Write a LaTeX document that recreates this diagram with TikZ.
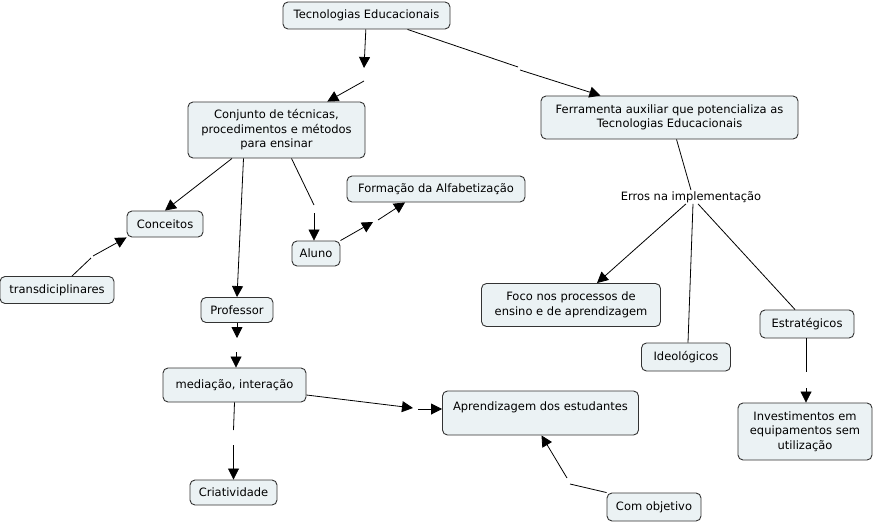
\documentclass[tikz,border=0pt]{standalone}
\usepackage{fontspec}
\setmainfont{DejaVu Sans}
\usetikzlibrary{arrows.meta}
\definecolor{boxfill}{HTML}{EBF2F4}
\definecolor{boxline}{HTML}{333333}
\tikzset{
  concept/.style={draw=boxline, line width=0.9pt, fill=boxfill, rounded corners=5pt,
    align=center, inner sep=2pt, font=\fontsize{11.5}{14.5}\selectfont},
  phrase/.style={inner sep=1pt, font=\fontsize{11.5}{14.5}\selectfont},
  link/.style={draw=black, line width=0.8pt},
  arr/.style={link, -{Triangle[length=11pt,width=11pt]}},
}
\begin{document}
\begin{tikzpicture}[x=1pt,y=-1pt]
\fill[white] (0,0) rectangle (874,524);
\useasboundingbox (0,0) rectangle (874,524);

\node[concept, minimum width=167pt, minimum height=27pt] (te) at (366.5,15.5) {Tecnologias Educacionais};
\node[concept, minimum width=177pt, minimum height=56pt] (ct) at (276.5,130) {Conjunto de técnicas,\\procedimentos e métodos\\para ensinar};
\node[concept, minimum width=257pt, minimum height=43pt] (fa) at (669.5,117.5) {Ferramenta auxiliar que potencializa as\\Tecnologias Educacionais};
\node[concept, minimum width=178pt, minimum height=26pt] (falf) at (436,189) {Formação da Alfabetização};
\node[concept, minimum width=76pt, minimum height=26pt] (conc) at (165,224) {Conceitos};
\node[concept, minimum width=48pt, minimum height=25pt] (aluno) at (316,253.5) {Aluno};
\node[concept, minimum width=114pt, minimum height=27pt] (trans) at (57,290) {transdiciplinares};
\node[concept, minimum width=72pt, minimum height=25pt] (prof) at (237,310) {Professor};
\node[concept, minimum width=143pt, minimum height=34pt] (med) at (234.5,385) {mediação, interação};
\node[concept, minimum width=196pt, minimum height=44pt] (apr) at (540.5,413) {Aprendizagem dos estudantes\\\mbox{}};
\node[concept, minimum width=87pt, minimum height=25pt] (crit) at (233.5,492.5) {Criatividade};
\node[concept, minimum width=94pt, minimum height=28pt] (com) at (654,507) {Com objetivo};
\node[concept, minimum width=179pt, minimum height=43pt] (foco) at (571,305) {Foco nos processos de\\ensino e de aprendizagem};
\node[concept, minimum width=89pt, minimum height=28pt] (ideo) at (686,357) {Ideológicos};
\node[concept, minimum width=94pt, minimum height=28pt] (estr) at (807,324) {Estratégicos};
\node[concept, minimum width=134pt, minimum height=57pt] (inv) at (805,431.5) {Investimentos em\\equipamentos sem\\utilização};
\node[phrase] (erros) at (691,197) {Erros na implementação};

\coordinate (g1a) at (364,68);  \coordinate (g1b) at (364,81);
\coordinate (g2a) at (518,67);  \coordinate (g2b) at (520,70);
\coordinate (g5a) at (314,205); \coordinate (g5b) at (314,213);
\coordinate (g6a) at (373,222); \coordinate (g6b) at (378,220);
\coordinate (g7a) at (91,258);  \coordinate (g7b) at (93,256);
\coordinate (g8a) at (237,338); \coordinate (g8b) at (236,352);
\coordinate (g9a) at (233.5,430); \coordinate (g9b) at (233.5,445);
\coordinate (g10a) at (413,408); \coordinate (g10b) at (418,409);
\coordinate (g11a) at (570,484); \coordinate (g11b) at (567,478);
\coordinate (g16a) at (806,372); \coordinate (g16b) at (806,388);

% Tecnologias -> Conjunto
\draw[arr] (te) -- (g1a);
\draw[arr] (g1b) -- (ct);
% Tecnologias -> Ferramenta
\draw[link] (te) -- (g2a);
\draw[arr] (g2b) -- (fa);
% Conjunto -> Conceitos, Professor, Aluno
\draw[arr] ([xshift=-44.5pt]ct.south) -- (conc.north);
\draw[arr] ([xshift=-33pt]ct.south) -- (prof.north);
\draw[link] ([xshift=15pt]ct.south) -- (g5a);
\draw[arr] (g5b) -- ([xshift=-2pt]aluno.north);
% Aluno -> Formação
\draw[arr] (aluno.north east) -- (g6a);
\draw[arr] (g6b) -- ([xshift=-31pt]falf.south);
% transdiciplinares -> Conceitos
\draw[link] ([xshift=15pt]trans.north) -- (g7a);
\draw[arr] (g7b) -- (conc.south west);
% Professor -> mediação
\draw[arr] (prof.south) -- (g8a);
\draw[arr] (g8b) -- ([xshift=1.5pt]med.north);
% mediação -> Criatividade
\draw[link] (med.south) -- (g9a);
\draw[arr] (g9b) -- (crit.north);
% mediação -> Aprendizagem
\draw[arr] ([yshift=-10pt]med.east) -- (g10a);
\draw[arr] (g10b) -- ([yshift=4pt]apr.west);
% Com objetivo -> Aprendizagem
\draw[link] (com.north west) -- (g11a);
\draw[arr] (g11b) -- ([xshift=1pt]apr.south);
% Ferramenta -> Erros
\draw[link] ([xshift=7pt]fa.south) -- (erros.north);
\draw[arr] ([xshift=-5pt]erros.south) -- ([xshift=26pt]foco.north);
\draw[link] ([xshift=2pt]erros.south) -- ([xshift=2pt]ideo.north);
\draw[link] ([xshift=7pt]erros.south) -- ([xshift=-12pt]estr.north);
% Estratégicos -> Investimentos
\draw[link] ([xshift=-1pt]estr.south) -- (g16a);
\draw[arr] (g16b) -- ([xshift=1pt]inv.north);
\end{tikzpicture}
\end{document}
